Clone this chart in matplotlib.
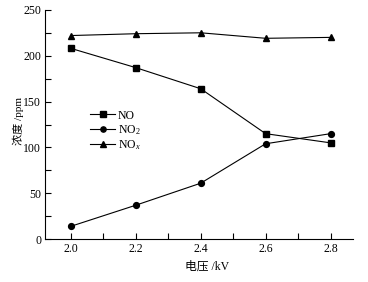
import matplotlib
matplotlib.use("Agg")
import matplotlib.pyplot as plt
from matplotlib.ticker import MultipleLocator

voltage = [2.0, 2.2, 2.4, 2.6, 2.8]
no_vals = [208, 187, 164, 115, 105]
no2_vals = [14, 37, 61, 104, 115]
nox_vals = [222, 224, 225, 219, 220]

FAM = ['Liberation Serif', 'Noto Sans CJK SC']
plt.rcParams['font.family'] = FAM
plt.rcParams['mathtext.fontset'] = 'custom'
plt.rcParams['mathtext.rm'] = 'Liberation Serif'
plt.rcParams['mathtext.it'] = 'Liberation Serif:italic'

fig = plt.figure(figsize=(3.68, 2.82), dpi=100)
ax = fig.add_axes([0.123, 0.152, 0.836, 0.813])

lw = 0.8
ms = 4.2
ax.plot(voltage, no_vals, color='black', lw=lw, marker='s', ms=ms, label='NO')
ax.plot(voltage, no2_vals, color='black', lw=lw, marker='o', ms=ms, label='NO$_2$')
ax.plot(voltage, nox_vals, color='black', lw=lw, marker='^', ms=ms + 0.4, label='NO$_{\\mathit{x}}$')

ax.set_xlim(1.921, 2.869)
ax.set_ylim(0, 250)
ax.xaxis.set_major_locator(MultipleLocator(0.2))
ax.xaxis.set_minor_locator(MultipleLocator(0.1))
ax.yaxis.set_major_locator(MultipleLocator(50))
ax.yaxis.set_minor_locator(MultipleLocator(25))
ax.xaxis.set_major_formatter(plt.FuncFormatter(lambda v, p: f"{v:.1f}"))
ax.tick_params(which='both', direction='in', length=4, width=0.8, labelsize=8.5, pad=3)
for s in ['top', 'right']:
    ax.spines[s].set_visible(False)
for s in ['left', 'bottom']:
    ax.spines[s].set_linewidth(0.8)

ax.set_xlabel('电压 /kV', fontsize=8.5)
ax.xaxis.set_label_coords(0.526, -0.095)
ax.set_ylabel('浓度 /ppm', fontsize=8, va='center')
ax.yaxis.set_label_coords(-0.087, 0.515)

leg = ax.legend(loc='upper left', bbox_to_anchor=(0.146, 0.565), frameon=False,
                fontsize=8.5, numpoints=1, handlelength=2.1, handletextpad=0.25,
                labelspacing=0.12, borderaxespad=0, borderpad=0, markerscale=0.9)

fig.savefig('out.png', dpi=100)
